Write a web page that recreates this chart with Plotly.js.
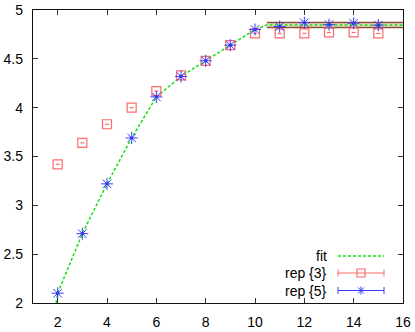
<!DOCTYPE html>
<html>
<head>
<meta charset="utf-8">
<script src="https://cdn.plot.ly/plotly-3.0.1.min.js"></script>
<style>
  html, body { margin: 0; padding: 0; background: #fff; }
  #chart { width: 415px; height: 332px; }
</style>
</head>
<body>
<div id="chart"></div>
<script>
const steps = [2, 3, 4, 5, 6, 7, 8, 9, 10, 11, 12, 13, 14, 15];
const rep3 = [3.42, 3.64, 3.83, 4.00, 4.17, 4.33, 4.48, 4.64, 4.76, 4.76, 4.76, 4.77, 4.77, 4.76];
const rep5 = [2.10, 2.71, 3.22, 3.69, 4.11, 4.32, 4.48, 4.64, 4.80, 4.83, 4.87, 4.85, 4.865, 4.845];
const rep3Err = [0.08, 0.08, 0.08, 0.08, 0.08, 0.08, 0.08, 0.08, 0.08, 0.08, 0.08, 0.08, 0.08, 0.08];
const rep5Err = [0.06, 0.06, 0.06, 0.06, 0.06, 0.06, 0.06, 0.06, 0.06, 0.06, 0.06, 0.06, 0.06, 0.06];
const fitX = [1.94, 2, 3, 4, 5, 6, 7, 8, 9, 10, 10.48, 16];
const fitY = [2.0, 2.10, 2.71, 3.22, 3.69, 4.11, 4.32, 4.48, 4.64, 4.80, 4.847, 4.847];
const bandX = [10.48, 16];
const bandLow = [4.821, 4.821];
const bandHigh = [4.872, 4.872];
const legendNames = ['fit', 'rep {3}', 'rep {5}'];

const green = '#11e011';
const red = '#ff6a6a';
const blue = '#3a3aff';
const brown = '#8a5232';

// plot box in pixels (matches margins below)
const box = { l: 33, t: 10, w: 370, h: 293 };
const px = x => (x - box.l) / box.w;
const py = y => 1 - (y - box.t) / box.h;

const traces = [
  { x: bandX, y: bandLow, mode: 'lines', line: { color: brown, width: 1.3 }, hoverinfo: 'skip' },
  { x: bandX, y: bandHigh, mode: 'lines', line: { color: brown, width: 1.3 }, fill: 'tonexty', fillcolor: 'rgba(240,200,185,0.6)', hoverinfo: 'skip' },
  { x: fitX, y: fitY, name: 'fit', mode: 'lines', line: { color: green, width: 1.5, dash: '3px,2px' } },
  {
    x: steps, y: rep3, name: 'rep {3}', mode: 'markers',
    marker: { symbol: 'square-open', size: 9, color: red, line: { width: 1.2 } },
    error_x: { type: 'data', array: rep3Err, width: 0, thickness: 1.2, color: red }
  },
  {
    x: steps, y: rep5, name: 'rep {5}', mode: 'markers',
    marker: { symbol: 'asterisk-open', size: 10, color: blue, line: { width: 1, color: blue } },
    error_x: { type: 'data', array: rep5Err, width: 0, thickness: 2.5, color: '#1010c0' }
  }
];

// gnuplot-style key: text on the left, sample on the right
const rowY = [256, 273, 290.5];
const sx0 = 338, sx1 = 384, sxm = 361;
const shapes = [];
const line = (x0, y0, x1, y1, color, extra) => shapes.push(Object.assign({
  type: 'line', xref: 'paper', yref: 'paper',
  x0: px(x0), y0: py(y0), x1: px(x1), y1: py(y1),
  line: { color: color, width: 1 }
}, extra || {}));

line(sx0, rowY[0], sx1, rowY[0], green, { line: { color: green, width: 1.5, dash: '3px,2px' } });
[[rowY[1], red], [rowY[2], blue]].forEach(([y, c]) => {
  line(sx0, y, sx1, y, c);
  line(sx0, y - 3.5, sx0, y + 3.5, c);
  line(sx1, y - 3.5, sx1, y + 3.5, c);
});
shapes.push({
  type: 'rect', xref: 'paper', yref: 'paper',
  x0: px(sxm - 4), x1: px(sxm + 4), y0: py(rowY[1] - 4), y1: py(rowY[1] + 4),
  line: { color: red, width: 1.2 }
});
line(sxm - 4, rowY[2], sxm + 4, rowY[2], blue);
line(sxm, rowY[2] - 4, sxm, rowY[2] + 4, blue);
line(sxm - 3, rowY[2] - 3, sxm + 3, rowY[2] + 3, blue);
line(sxm - 3, rowY[2] + 3, sxm + 3, rowY[2] - 3, blue);

const annotations = legendNames.map((name, i) => ({
  text: name, xref: 'paper', yref: 'paper',
  x: px(329), y: py(rowY[i]), xanchor: 'right', yanchor: 'middle',
  showarrow: false, font: { size: 14, color: '#000' }
}));

const axis = {
  showgrid: false, zeroline: false, showline: true, mirror: 'allticks',
  linecolor: '#111', linewidth: 1.2, ticks: 'inside', ticklen: 5, tickcolor: '#333',
  tickfont: { size: 14, color: '#000' }
};

Plotly.newPlot('chart', traces, {
  width: 415, height: 332,
  paper_bgcolor: '#ffffff', plot_bgcolor: '#ffffff',
  font: { family: 'Liberation Sans, Arial, sans-serif', size: 14, color: '#000' },
  margin: { l: 33, r: 12, t: 10, b: 29 },
  showlegend: false,
  xaxis: { ...axis, range: [1, 16], tick0: 0, dtick: 2, ticklabelstandoff: 6 },
  yaxis: { ...axis, range: [2, 5], tick0: 2, dtick: 0.5, ticklabelstandoff: 6 },
  shapes: shapes,
  annotations: annotations
}, { displayModeBar: false, staticPlot: true });
</script>
</body>
</html>
